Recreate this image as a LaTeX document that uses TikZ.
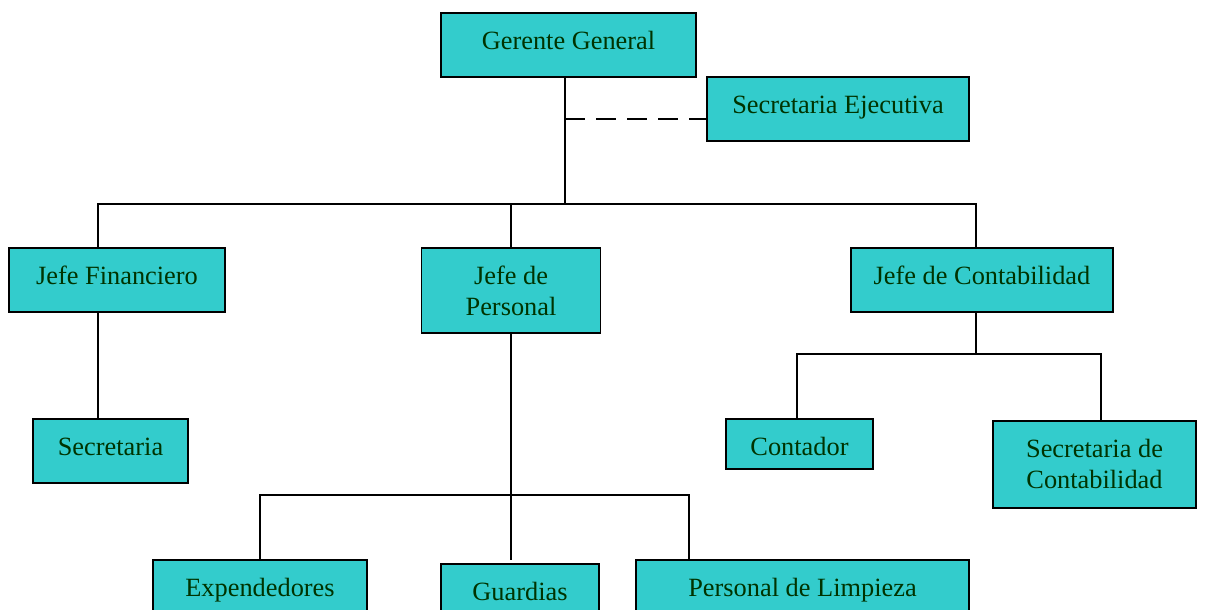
\documentclass[tikz,border=0pt]{standalone}
\usepackage{fontspec}
\setmainfont{Liberation Serif}
\usepackage{tikz}
\definecolor{boxfill}{HTML}{33CCCC}
\definecolor{boxtext}{HTML}{003300}

\begin{document}
\begin{tikzpicture}[x=0.2mm, y=-0.2mm, font=\fontsize{15}{18}\selectfont,
		box/.style={draw, line width=1pt, fill=boxfill, text=boxtext, anchor=north, inner xsep=0pt, inner ysep=0pt, text height=7.4mm, text depth=5.4mm},
		twoline/.style={box, align=center, text height=13.6mm, text depth=#1},
		link/.style={line width=0.8pt},
		sec/.style={line width=0.8pt, dash pattern=on 4mm off 2.2mm}]
		\useasboundingbox (0,0) rectangle (1205,610);
		\clip (0,0) rectangle (1205,610);
		
		\node (gerente) at (568.5, 12) [box, minimum width=51mm] {Gerente General};
		\node (ejecutiva) at (838, 76) [box, minimum width=52.4mm] {Secretaria Ejecutiva};
		\node (financiero) at (117, 247) [box, minimum width=43.2mm] {Jefe Financiero};
		\node (personal) at (511, 247) [twoline=3.4mm, minimum width=35.8mm] {Jefe de\\Personal};
		\node (contabilidad) at (982, 247) [box, minimum width=52.4mm] {Jefe de Contabilidad};
		\node (secretaria) at (110.5, 418) [box, minimum width=31mm] {Secretaria};
		\node (contador) at (799.5, 418) [box, minimum width=29.4mm, text depth=2.6mm] {Contador};
		\node (seccont) at (1094.5, 420) [twoline=3.8mm, minimum width=40.6mm] {Secretaria de\\Contabilidad};
		\node (expendedores) at (260, 559) [box, minimum width=42.8mm] {Expendedores};
		\node (guardias) at (520, 563) [box, minimum width=31.6mm] {Guardias};
		\node (limpieza) at (802.5, 559) [box, minimum width=66.6mm] {Personal de Limpieza};
		
		\coordinate (busL) at (98, 204);
		\coordinate (busR) at (976, 204);
		\coordinate (dash) at (565, 119);
		\coordinate (busC) at (976, 354);
		\coordinate (busP) at (689, 495);
		
		\draw[link] (gerente.south -| dash) -- (dash |- busL);
		\draw[sec] (dash) -- (dash -| ejecutiva.west);
		\draw[link] (financiero.north -| busL) |- (busR) -- (busR |- contabilidad.north);
		\draw[link] (personal.north) -- (personal.north |- busL);
		\draw[link] (financiero.south -| busL) -- (secretaria.north -| busL);
		\draw[link] (contabilidad.south -| busC) -- (busC);
		\draw[link] (contador.north -| 797,0) |- (busC) -| (seccont.north -| 1101,0);
		\draw[link] (personal.south) -- ([yshift=0.6mm]personal.south |- guardias.north);
		\draw[link] (expendedores.north) |- (busP) -- (busP |- limpieza.north);
	\end{tikzpicture}
\end{document}
